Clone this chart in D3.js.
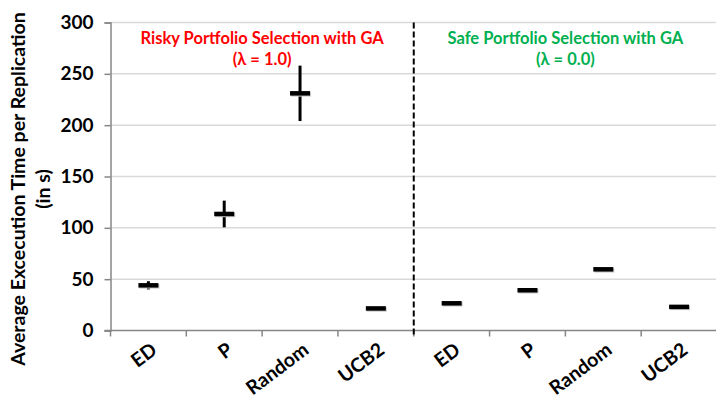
<!DOCTYPE html>
<html>
<head>
<meta charset="utf-8">
<script src="https://cdn.jsdelivr.net/npm/d3@7/dist/d3.min.js"></script>
<style>
  html, body { margin: 0; padding: 0; background: #fff; }
  svg { display: block; }
  text { font-family: Lato, "Open Sans", "Liberation Sans", sans-serif; font-weight: 700; }
</style>
</head>
<body>
<svg id="chart" width="716" height="404"></svg>
<script>
// Strategies, repeated for the two portfolio settings
const categories = ["ED", "P", "Random", "UCB2", "ED", "P", "Random", "UCB2"];
const groups = ["risky", "risky", "risky", "risky", "safe", "safe", "safe", "safe"];
// Mean execution time per replication (s) and half-width of the error bar
const meanTimes = [44, 113.5, 231, 21.5, 26.5, 39.2, 59.6, 23];
const errorHalf = [4, 13, 27, 0.8, 0.8, 1, 1.2, 0.8];
const yTicks = [0, 50, 100, 150, 200, 250, 300];
const panelTitles = [
  { lines: ["Risky Portfolio Selection with GA", "(\u03bb = 1.0)"], color: "#ff0000" },
  { lines: ["Safe Portfolio Selection with GA", "(\u03bb = 0.0)"], color: "#00b050" }
];

const svg = d3.select("#chart");
const plotLeft = 110.5, plotRight = 717, plotTop = 22.5, plotBottom = 330.5;

const x = d3.scaleBand().domain(d3.range(categories.length)).range([plotLeft, plotRight]).padding(0);
const y = d3.scaleLinear().domain([0, 300]).range([plotBottom, plotTop]);

// horizontal gridlines
svg.append("g")
  .selectAll("line")
  .data(yTicks.filter(d => d > 0))
  .join("line")
  .attr("x1", plotLeft).attr("x2", 716)
  .attr("y1", d => y(d)).attr("y2", d => y(d))
  .attr("stroke", "#d9d9d9").attr("stroke-width", 1.5);

// y axis
const yAxis = svg.append("g")
  .attr("transform", `translate(${plotLeft},0)`)
  .call(d3.axisLeft(y).tickValues(yTicks).tickSize(6).tickPadding(11));
yAxis.select(".domain").attr("stroke", "#868686").attr("stroke-width", 1.5);
yAxis.selectAll(".tick line").attr("stroke", "#868686").attr("stroke-width", 1.5);
yAxis.selectAll(".tick text")
  .attr("fill", "#000").attr("font-size", "19px")
  .style("font-family", "Lato, sans-serif").style("font-weight", 700);

// x axis: ticks at band boundaries
svg.append("line")
  .attr("x1", plotLeft - 6).attr("x2", 716)
  .attr("y1", plotBottom).attr("y2", plotBottom)
  .attr("stroke", "#868686").attr("stroke-width", 1.5);
svg.append("g")
  .selectAll("line")
  .data(d3.range(categories.length + 1))
  .join("line")
  .attr("x1", i => plotLeft + i * x.bandwidth()).attr("x2", i => plotLeft + i * x.bandwidth())
  .attr("y1", plotBottom).attr("y2", plotBottom + 6)
  .attr("stroke", "#868686").attr("stroke-width", 1.5);

// category labels, slanted
svg.append("g")
  .selectAll("text")
  .data(categories)
  .join("text")
  .attr("transform", (d, i) => `translate(${x(i) + x.bandwidth() / 2 + 10},${plotBottom + 22}) rotate(-37)`)
  .attr("text-anchor", "end")
  .attr("font-size", "19.5px")
  .attr("fill", "#000")
  .text(d => d);

// divider between the two settings
svg.append("line")
  .attr("x1", x(4)).attr("x2", x(4))
  .attr("y1", plotTop).attr("y2", plotBottom + 6)
  .attr("stroke", "#000").attr("stroke-width", 2)
  .attr("stroke-dasharray", "6,3");

// error bars
const marks = svg.append("g");
marks.selectAll("line.err")
  .data(meanTimes)
  .join("line")
  .attr("class", "err")
  .attr("x1", (d, i) => x(i) + x.bandwidth() / 2)
  .attr("x2", (d, i) => x(i) + x.bandwidth() / 2)
  .attr("y1", (d, i) => y(d + errorHalf[i]))
  .attr("y2", (d, i) => y(d - errorHalf[i]))
  .attr("stroke", "#000").attr("stroke-width", 3);

// mean markers (dash), with a faint shadow
marks.selectAll("rect.shadow")
  .data(meanTimes)
  .join("rect")
  .attr("class", "shadow")
  .attr("x", (d, i) => x(i) + x.bandwidth() / 2 - 10 + 1)
  .attr("y", d => y(d) - 2.25 + 1)
  .attr("width", 20).attr("height", 4.5)
  .attr("fill", "#c8c8c8");
marks.selectAll("rect.mean")
  .data(meanTimes)
  .join("rect")
  .attr("class", "mean")
  .attr("x", (d, i) => x(i) + x.bandwidth() / 2 - 10)
  .attr("y", d => y(d) - 2.25)
  .attr("width", 20).attr("height", 4.5)
  .attr("fill", "#000");

// panel titles
panelTitles.forEach((p, k) => {
  const cx = (x(k * 4) + x(k * 4 + 3) + x.bandwidth()) / 2;
  const t = svg.append("text")
    .attr("text-anchor", "middle")
    .attr("fill", p.color)
    .attr("font-size", "16.5px");
  p.lines.forEach((line, j) => {
    t.append("tspan").attr("x", cx).attr("y", 44 + j * 21).text(line);
  });
});

// y axis title
const yt = svg.append("text")
  .attr("transform", "translate(0,189) rotate(-90)")
  .attr("text-anchor", "middle")
  .attr("font-size", "19.5px")
  .attr("fill", "#000");
yt.append("tspan").attr("x", 0).attr("y", 25).text("Average Excecution Time per Replication");
yt.append("tspan").attr("x", 0).attr("y", 50).text("(in s)");
</script>
</body>
</html>
